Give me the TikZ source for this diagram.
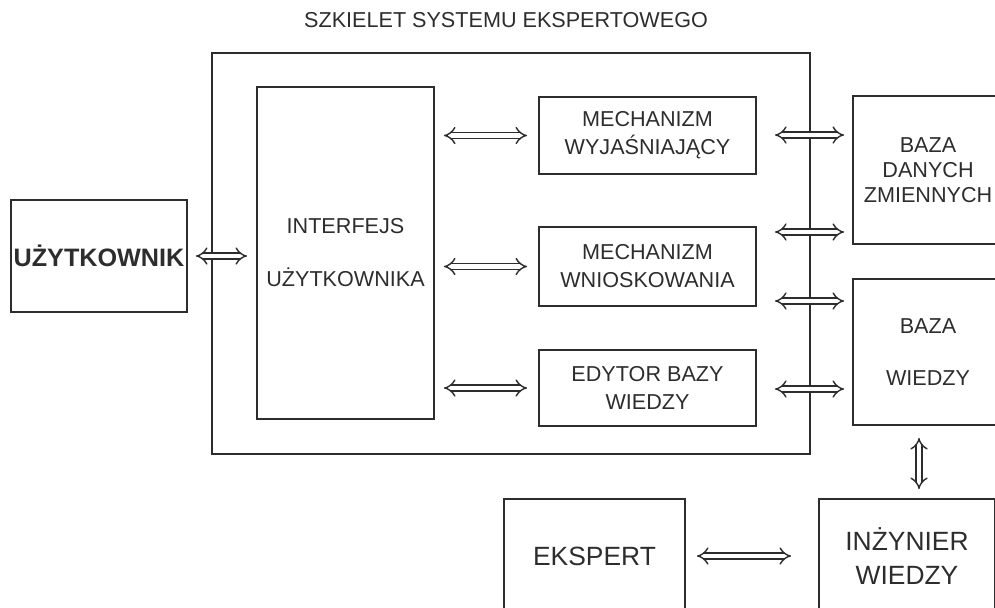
\documentclass[tikz,border=0pt]{standalone}
\usepackage{fontspec}
\setmainfont{Liberation Sans}
\usetikzlibrary{arrows.meta}
\definecolor{ink}{RGB}{45,45,45}

\begin{document}
\begin{tikzpicture}[
    x=0.5pt, y=-0.5pt,
    color=ink, line width=0.9pt,
    box/.style={draw, rectangle, inner sep=0pt, align=center,
      font=\fontsize{10.8}{14}\selectfont},
    dbl/.style={double, double distance=2.3pt, line width=0.7pt,
      {Implies}-{Implies}}
  ]
  \useasboundingbox (0,0) rectangle (995,607);
  \clip (0,0) rectangle (995,607);

  % szkielet systemu
  \node[box, minimum width=299pt, minimum height=200.5pt] (szk) at (511,253.5) {};
  \node[font=\fontsize{10.8}{13}\selectfont] (tytul) at (506,20) {SZKIELET SYSTEMU EKSPERTOWEGO};

  % bloki wewnatrz szkieletu
  \node[box, minimum width=88.5pt, minimum height=166pt] (iface) at (345.5,253) {INTERFEJS\\[12.5pt]UŻYTKOWNIKA};
  \node[box, minimum width=108.5pt, minimum height=38.5pt] (mw) at (647.5,135.5) {MECHANIZM\\WYJAŚNIAJĄCY};
  \node[box, minimum width=108.5pt, minimum height=39.5pt] (mn) at (647.5,266.5) {MECHANIZM\\WNIOSKOWANIA};
  \node[box, minimum width=108.5pt, minimum height=38pt] (ed) at (647.5,388) {EDYTOR BAZY\\WIEDZY};

  % bazy
  \node[box, minimum width=75pt, minimum height=74pt] (bdz) at (928,170) {BAZA\\[-1.5pt]DANYCH\\[-1.5pt]ZMIENNYCH};
  \node[box, minimum width=75pt, minimum height=73pt] (bw) at (928,352) {BAZA\\[12pt]WIEDZY};

  % uzytkownik, ekspert, inzynier
  \node[box, minimum width=88pt, minimum height=56pt, font=\bfseries\fontsize{12.6}{15}\selectfont] (user) at (99,256) {UŻYTKOWNIK};
  \node[box, minimum width=90.5pt, minimum height=57pt, font=\fontsize{13.2}{17}\selectfont] (eks) at (594.5,556) {EKSPERT};
  \node[box, minimum width=88pt, minimum height=57pt, font=\fontsize{13.2}{17}\selectfont] (inz) at (907,556) {INŻYNIER\\WIEDZY};

  % strzalki
  \draw[dbl, shorten <=4pt, shorten >=4.5pt] (user.east) -- (user.east -| iface.west);
  \foreach \m in {mw, mn, ed}
    \draw[dbl, shorten <=4.5pt, shorten >=5.5pt] (\m.west -| iface.east) -- (\m.west);
  \foreach \yy/\cel in {135/bdz, 232/bdz, 301/bw, 389/bw} {
    \coordinate (l\yy) at (775,\yy);
    \draw[dbl, shorten >=4pt] (l\yy) -- (l\yy -| \cel.west);
  }
  \draw[dbl, shorten <=6pt, shorten >=4.5pt] ([xshift=-4.5pt]bw.south) -- ([xshift=-4.5pt]bw.south |- inz.north);
  \draw[dbl, shorten <=5.5pt, shorten >=13.5pt] (eks.east) -- (eks.east -| inz.west);
\end{tikzpicture}
\end{document}
